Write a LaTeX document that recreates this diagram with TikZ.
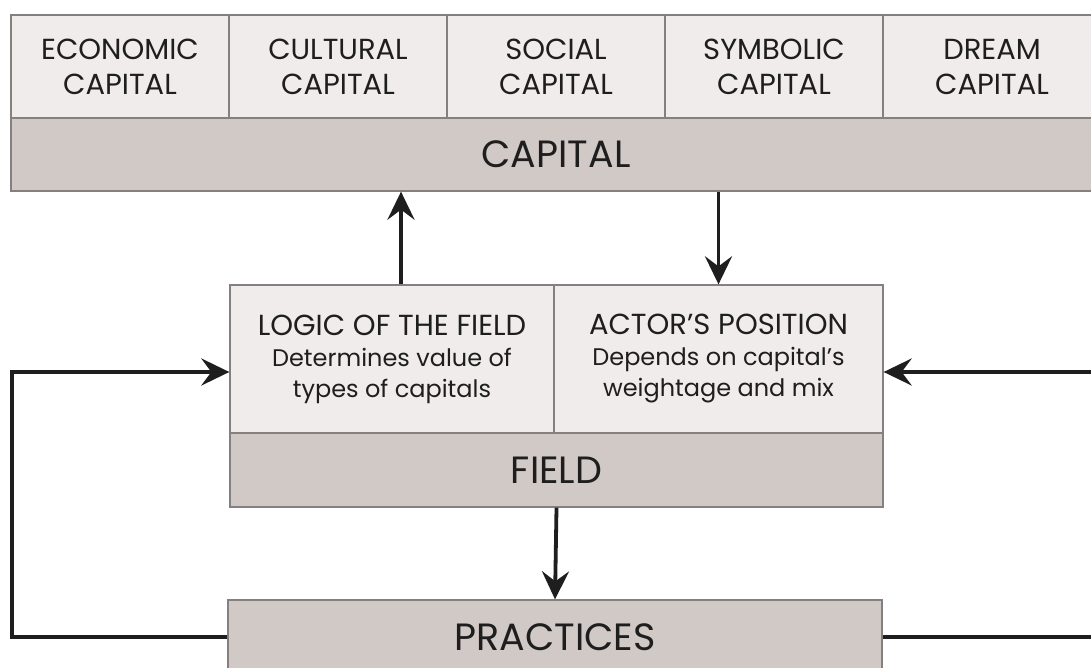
\documentclass[tikz,border=0pt]{standalone}
\usepackage{fontspec}
\setmainfont{Poppins}
\usetikzlibrary{arrows.meta}
\definecolor{cellgray}{HTML}{EFECEB}
\definecolor{bandgray}{HTML}{D0C9C6}
\definecolor{rulegray}{HTML}{858080}
\definecolor{ink}{HTML}{1E1E1E}
\begin{document}
\begin{tikzpicture}[x=1pt,y=-1pt,
cell/.style={draw=rulegray,line width=1.3pt,fill=cellgray,inner sep=0,align=center,text=ink},
band/.style={draw=rulegray,line width=1.3pt,fill=bandgray,inner sep=0,text=ink,font=\fontsize{38}{44}\selectfont},
link/.style={line width=3.8pt,draw=ink,-{Stealth[length=28pt,width=27pt,inset=10pt]}}]
\clip(0,0)rectangle(1091,668);
\fill[white](0,0)rectangle(1091,668);
% capital
\foreach\n/\t[count=\i from 0]in{eco/ECONOMIC,cult/CULTURAL,soc/SOCIAL,sym/SYMBOLIC,dream/DREAM}
\node[cell,minimum width=218pt,minimum height=103pt,font=\fontsize{29}{35}\selectfont](\n)at(120+218*\i,66.5){\t\\CAPITAL};
\node[band,minimum width=1090pt,minimum height=73pt](capital)at(556,154.5){CAPITAL};
% field
\node[cell,minimum width=324pt,minimum height=148pt,font=\fontsize{24}{31}\selectfont](logic)at(392,359)
{{\fontsize{29}{31}\selectfont LOGIC OF THE FIELD}\\Determines value of\\types of capitals};
\node[cell,minimum width=329pt,minimum height=148pt,font=\fontsize{24}{31}\selectfont](position)at(718.5,359)
{{\fontsize{29}{31}\selectfont ACTOR'S POSITION}\\Depends on capital's\\weightage and mix};
\node[band,minimum width=653pt,minimum height=74pt](field)at(556.5,470){FIELD};
\node[band,minimum width=654pt,minimum height=74pt](practices)at(555,637){PRACTICES};
% links
\coordinate(up)at([xshift=9pt]logic.north);
\draw[link](up)--(up|-capital.south);
\draw[link](capital.south-|position.north)--(position.north);
\draw[link](field.south)--(practices.north);
\draw[link](practices.west)--++(-215,0)|-([yshift=-13pt]logic.west);
\draw[link](practices.east)--++(240,0)|-([yshift=-13pt]position.east);
\end{tikzpicture}
\end{document}
